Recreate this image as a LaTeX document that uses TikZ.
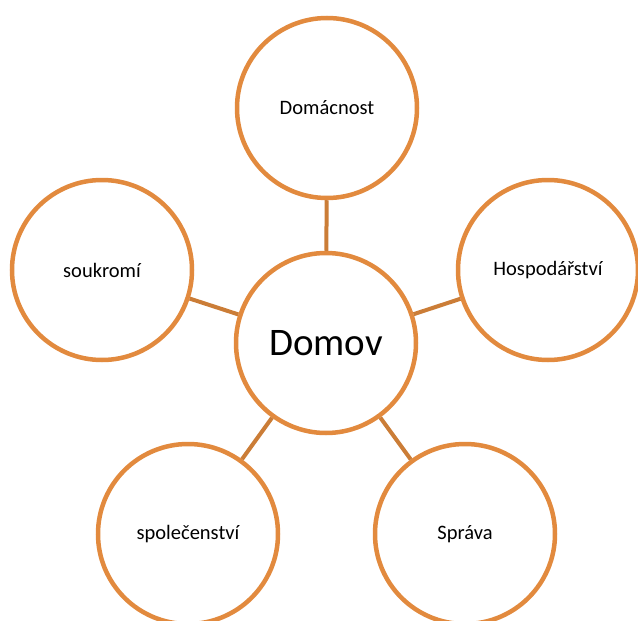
\documentclass[tikz,border=0pt]{standalone}
\usepackage{fontspec}
\setmainfont{Carlito}
\definecolor{ringc}{RGB}{226,138,62}
\definecolor{linkc}{RGB}{203,125,55}
\begin{document}
\begin{tikzpicture}[x=1pt,y=-1pt,
  bubble/.style={circle,draw=ringc,line width=4.5pt,fill=white,minimum size=180pt,inner sep=0pt,font=\fontsize{20.5}{24}\selectfont},
  hub/.style={bubble,font=\fontsize{39}{46}\selectfont},
  link/.style={draw=linkc,line width=4pt}]
\useasboundingbox (0,0) rectangle (638,621);
\node[hub] (c) at (326,343) {Domov};
\node[bubble] (t) at (327,108) {Domácnost};
\node[bubble] (l) at (102,270) {soukromí};
\node[bubble] (r) at (548,270) {Hospodářství};
\node[bubble] (bl) at (188,534) {společenství};
\node[bubble] (br) at (465,534) {Správa};
\begin{scope}[on background layer/.try]
\end{scope}
\draw[link] (c) -- (t);
\draw[link] (c) -- (l);
\draw[link] (c) -- (r);
\draw[link] (c) -- (bl);
\draw[link] (c) -- (br);
\end{tikzpicture}
\end{document}
